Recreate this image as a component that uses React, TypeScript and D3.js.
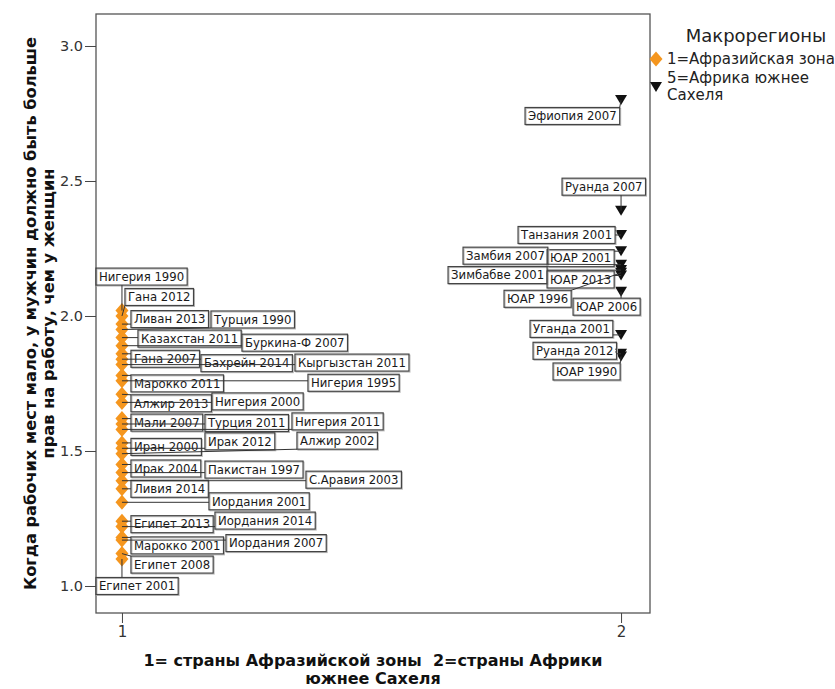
import React, { useEffect, useRef } from "react";
import * as d3 from "d3";

// ---- data ----
const legendTitle = "Макрорегионы";
const groupLabels = ["1=Афразийская зона", "5=Африка южнее", "Сахеля"];
const xTicks = [1, 2];
const yTicks = [1.0, 1.5, 2.0, 2.5, 3.0];

const afroNames = [
  "Нигерия 1990", "Гана 2012", "Ливан 2013", "Турция 1990", "Казахстан 2011",
  "Буркина-Ф 2007", "Гана 2007", "Бахрейн 2014", "Кыргызстан 2011", "Марокко 2011",
  "Нигерия 1995", "Алжир 2013", "Нигерия 2000", "Мали 2007", "Турция 2011",
  "Нигерия 2011", "Иран 2000", "Ирак 2012", "Алжир 2002", "Ирак 2004",
  "Пакистан 1997", "С.Аравия 2003", "Ливия 2014", "Иордания 2001", "Египет 2013",
  "Иордания 2014", "Марокко 2001", "Иордания 2007", "Египет 2008", "Египет 2001",
];
const afroValues = [
  2.02, 2.0, 1.97, 1.95, 1.92,
  1.89, 1.86, 1.84, 1.82, 1.78,
  1.76, 1.71, 1.68, 1.62, 1.6,
  1.58, 1.53, 1.51, 1.49, 1.45,
  1.42, 1.39, 1.36, 1.31, 1.24,
  1.22, 1.18, 1.17, 1.12, 1.1,
];

const africaNames = [
  "Эфиопия 2007", "Руанда 2007", "Танзания 2001", "ЮАР 2001", "Замбия 2007",
  "Зимбабве 2001", "ЮАР 2013", "ЮАР 1996", "ЮАР 2006", "Уганда 2001",
  "Руанда 2012", "ЮАР 1990",
];
const africaValues = [
  2.8, 2.39, 2.3, 2.24, 2.19,
  2.17, 2.15, 2.16, 2.09, 1.93,
  1.86, 1.85,
];

// ---- label placement (layout): [dx of box left edge, dy of box centre] from the point, px ----
const afroLabelOffsets: [number, number][] = [
  [-26, -34], [3, -19], [9, -5], [89, -10], [16, 1],
  [120, -3], [9, 5], [79, 4], [173, -2], [9, 8],
  [186, 2], [9, 9], [90, -1], [9, 4], [83, -1],
  [170, -8], [9, 4], [83, -7], [175, -13], [9, 4],
  [83, -3], [184, -1], [9, 0], [87, -1], [9, 3],
  [93, -6], [9, 8], [104, 3], [9, 11], [-26, 27],
];
const africaLabelOffsets: [number, number][] = [
  [-96, 16], [-59, -24], [-103, 0], [-74, 7], [-158, -9],
  [-173, 5], [-74, 4], [-117, 26], [-48, 15], [-91, -6],
  [-88, -3], [-68, 15],
];

const W = 835;
const H = 689;
const M = { left: 96, right: 650, top: 14, bottom: 613 };
const ORANGE = "#F5961E";
const FONT = "'DejaVu Sans', sans-serif";

const diamondPath = "M0,-7.5L6.5,0L0,7.5L-6.5,0Z";
const trianglePath = "M-6,-5L6,-5L0,5Z";

export default function App() {
  const ref = useRef<SVGSVGElement>(null);

  useEffect(() => {
    const svg = d3.select(ref.current);
    svg.selectAll("*").remove();

    const x = d3.scaleLinear().domain([0.948, 2.058]).range([M.left, M.right]);
    const y = d3.scaleLinear().domain([0.9, 3.1185]).range([M.bottom, M.top]);

    svg.append("rect").attr("width", W).attr("height", H).attr("fill", "#fff");

    // frame
    svg
      .append("rect")
      .attr("x", M.left)
      .attr("y", M.top)
      .attr("width", M.right - M.left)
      .attr("height", M.bottom - M.top)
      .attr("fill", "none")
      .attr("stroke", "#555")
      .attr("stroke-width", 1.3);

    // axes
    const yAxis = d3
      .axisLeft(y)
      .tickValues(yTicks)
      .tickFormat(d3.format(".1f"))
      .tickSize(11)
      .tickPadding(2);
    const gy = svg.append("g").attr("transform", `translate(${M.left},0)`).call(yAxis);
    gy.select(".domain").remove();
    gy.selectAll("line").attr("stroke", "#444");
    gy.selectAll("text").attr("font-family", FONT).attr("font-size", 14.5).attr("fill", "#333");

    const xAxis = d3
      .axisBottom(x)
      .tickValues(xTicks)
      .tickFormat(d3.format("d"))
      .tickSize(10)
      .tickPadding(3);
    const gx = svg.append("g").attr("transform", `translate(0,${M.bottom})`).call(xAxis);
    gx.select(".domain").remove();
    gx.selectAll("line").attr("stroke", "#444");
    gx.selectAll("text").attr("font-family", FONT).attr("font-size", 15).attr("fill", "#333");

    // axis titles
    const yt = svg
      .append("text")
      .attr("transform", `translate(36,${(M.top + M.bottom) / 2}) rotate(-90)`)
      .attr("text-anchor", "middle")
      .attr("font-family", FONT)
      .attr("font-weight", "bold")
      .attr("font-size", 16.2)
      .attr("fill", "#111");
    yt.append("tspan").attr("x", 0).attr("dy", 0).text("Когда рабочих мест мало, у мужчин должно быть больше");
    yt.append("tspan").attr("x", 0).attr("dy", 18).text("прав на работу, чем у женщин");

    const xt = svg
      .append("text")
      .attr("text-anchor", "middle")
      .attr("font-family", FONT)
      .attr("font-weight", "bold")
      .attr("font-size", 16)
      .attr("fill", "#111")
      .style("white-space", "pre");
    xt.append("tspan").attr("x", 373).attr("y", 666).text("1= страны Афразийской зоны  2=страны Африки");
    xt.append("tspan").attr("x", 373).attr("y", 684).text("южнее Сахеля");

    // points
    const afro = afroNames.map((n, i) => ({ name: n, gx: 1, v: afroValues[i], off: afroLabelOffsets[i] }));
    const afr = africaNames.map((n, i) => ({ name: n, gx: 2, v: africaValues[i], off: africaLabelOffsets[i] }));
    const all = [...afro, ...afr];

    svg
      .append("g")
      .selectAll("path")
      .data(afro)
      .join("path")
      .attr("d", diamondPath)
      .attr("transform", (d) => `translate(${x(d.gx)},${y(d.v)})`)
      .attr("fill", ORANGE);
    svg
      .append("g")
      .selectAll("path")
      .data(afr)
      .join("path")
      .attr("d", trianglePath)
      .attr("transform", (d) => `translate(${x(d.gx)},${y(d.v)})`)
      .attr("fill", "#111");

    // labels
    const lg = svg.append("g");
    const lineG = svg.append("g");
    const LH = 17;
    const PAD = 3;
    all.forEach((d) => {
      const px = x(d.gx);
      const py = y(d.v);
      const left = px + d.off[0];
      const cy = py + d.off[1];
      const g = lg.append("g");
      const t = g
        .append("text")
        .attr("x", left + PAD)
        .attr("y", cy)
        .attr("dy", "0.36em")
        .attr("font-family", FONT)
        .attr("font-size", 11.7)
        .attr("fill", "#1a1a1a")
        .text(d.name);
      const tw = (t.node() as SVGTextElement).getComputedTextLength();
      const bw = tw + PAD * 2;
      g.insert("rect", "text")
        .attr("x", left + 1)
        .attr("y", cy - LH / 2 + 1)
        .attr("width", bw)
        .attr("height", LH)
        .attr("fill", "none")
        .attr("stroke", "#bbb")
        .attr("stroke-width", 1);
      g.insert("rect", "text")
        .attr("x", left)
        .attr("y", cy - LH / 2)
        .attr("width", bw)
        .attr("height", LH)
        .attr("fill", "none")
        .attr("stroke", "#444")
        .attr("stroke-width", 1.2);
      // leader from point to nearest box edge
      const nx = Math.max(left, Math.min(px, left + bw));
      const ny = Math.max(cy - LH / 2, Math.min(py, cy + LH / 2));
      if (Math.hypot(nx - px, ny - py) > 2) {
        lineG
          .append("line")
          .attr("x1", px)
          .attr("y1", py)
          .attr("x2", nx)
          .attr("y2", ny)
          .attr("stroke", "#333")
          .attr("stroke-width", 1);
      }
    });

    // legend
    svg
      .append("text")
      .attr("x", 756)
      .attr("y", 42)
      .attr("text-anchor", "middle")
      .attr("font-family", FONT)
      .attr("font-size", 18)
      .attr("fill", "#222")
      .text(legendTitle);
    svg.append("path").attr("d", diamondPath).attr("transform", "translate(656,59)").attr("fill", ORANGE);
    svg.append("path").attr("d", trianglePath).attr("transform", "translate(656,87)").attr("fill", "#111");
    const legendY = [64, 83, 100];
    groupLabels.forEach((s, i) =>
      svg
        .append("text")
        .attr("x", 667)
        .attr("y", legendY[i])
        .attr("font-family", FONT)
        .attr("font-size", 15)
        .attr("fill", "#222")
        .text(s)
    );
  }, []);

  return (
    <svg
      ref={ref}
      width={W}
      height={H}
      style={{ position: "absolute", left: 0, top: 0, display: "block" }}
    />
  );
}
